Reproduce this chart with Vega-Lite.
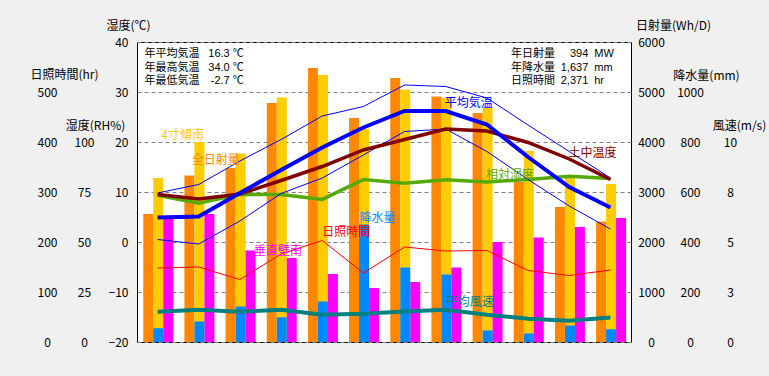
{
  "$schema": "https://vega.github.io/schema/vega-lite/v6.json",
  "width": 494,
  "height": 300,
  "autosize": {"type": "none"},
  "padding": {"left": 137, "top": 42, "right": 138, "bottom": 34},
  "background": "#f0f0f0",
  "view": {"fill": "white", "stroke": "black", "strokeWidth": 1},
  "config": {
    "font": "Noto Sans CJK JP",
    "axis": {
      "domain": false, "ticks": false, "tickSize": 0, "grid": false,
      "labelFont": "Noto Sans CJK JP", "labelFontSize": 12, "labelColor": "black",
      "titleFont": "Noto Sans CJK JP", "titleFontSize": 12, "titleFontWeight": "normal", "titleColor": "black",
      "titleAngle": 0, "titleAlign": "center", "titleBaseline": "middle",
      "gridColor": "#808080", "gridDash": [4, 3], "gridOpacity": 1, "gridWidth": 1,
      "labelBaseline": "middle", "labelOverlap": false
    },
    "text": {"font": "Noto Sans CJK JP", "fontSize": 12}
  },
  "datasets": {
    "solar": [
      {"month": "1月", "series": "全日射量", "value": 2560}, {"month": "2月", "series": "全日射量", "value": 3330},
      {"month": "3月", "series": "全日射量", "value": 3480}, {"month": "4月", "series": "全日射量", "value": 4780},
      {"month": "5月", "series": "全日射量", "value": 5480}, {"month": "6月", "series": "全日射量", "value": 4480},
      {"month": "7月", "series": "全日射量", "value": 5280}, {"month": "8月", "series": "全日射量", "value": 4910},
      {"month": "9月", "series": "全日射量", "value": 4580}, {"month": "10月", "series": "全日射量", "value": 3200},
      {"month": "11月", "series": "全日射量", "value": 2700}, {"month": "12月", "series": "全日射量", "value": 2410},
      {"month": "1月", "series": "4寸傾南", "value": 3280}, {"month": "2月", "series": "4寸傾南", "value": 4000},
      {"month": "3月", "series": "4寸傾南", "value": 3770}, {"month": "4月", "series": "4寸傾南", "value": 4890},
      {"month": "5月", "series": "4寸傾南", "value": 5340}, {"month": "6月", "series": "4寸傾南", "value": 4260},
      {"month": "7月", "series": "4寸傾南", "value": 5050}, {"month": "8月", "series": "4寸傾南", "value": 4880},
      {"month": "9月", "series": "4寸傾南", "value": 4690}, {"month": "10月", "series": "4寸傾南", "value": 3820},
      {"month": "11月", "series": "4寸傾南", "value": 3300}, {"month": "12月", "series": "4寸傾南", "value": 3160},
      {"month": "1月", "series": "垂直壁南", "value": 2470}, {"month": "2月", "series": "垂直壁南", "value": 2560},
      {"month": "3月", "series": "垂直壁南", "value": 1830}, {"month": "4月", "series": "垂直壁南", "value": 1680},
      {"month": "5月", "series": "垂直壁南", "value": 1360}, {"month": "6月", "series": "垂直壁南", "value": 1080},
      {"month": "7月", "series": "垂直壁南", "value": 1200}, {"month": "8月", "series": "垂直壁南", "value": 1490},
      {"month": "9月", "series": "垂直壁南", "value": 2000}, {"month": "10月", "series": "垂直壁南", "value": 2090},
      {"month": "11月", "series": "垂直壁南", "value": 2300}, {"month": "12月", "series": "垂直壁南", "value": 2480}
    ],
    "precip": [
      {"month": "1月", "mm": 55}, {"month": "2月", "mm": 82}, {"month": "3月", "mm": 142}, {"month": "4月", "mm": 99},
      {"month": "5月", "mm": 162}, {"month": "6月", "mm": 470}, {"month": "7月", "mm": 298}, {"month": "8月", "mm": 270},
      {"month": "9月", "mm": 46}, {"month": "10月", "mm": 34}, {"month": "11月", "mm": 66}, {"month": "12月", "mm": 51}
    ],
    "sun": [
      {"month": "1月", "hr": 148}, {"month": "2月", "hr": 150}, {"month": "3月", "hr": 125}, {"month": "4月", "hr": 176},
      {"month": "5月", "hr": 203}, {"month": "6月", "hr": 138}, {"month": "7月", "hr": 190}, {"month": "8月", "hr": 182},
      {"month": "9月", "hr": 183}, {"month": "10月", "hr": 143}, {"month": "11月", "hr": 133}, {"month": "12月", "hr": 144}
    ],
    "wind": [
      {"month": "1月", "ms": 1.51}, {"month": "2月", "ms": 1.61}, {"month": "3月", "ms": 1.51}, {"month": "4月", "ms": 1.61},
      {"month": "5月", "ms": 1.36}, {"month": "6月", "ms": 1.41}, {"month": "7月", "ms": 1.53}, {"month": "8月", "ms": 1.61},
      {"month": "9月", "ms": 1.36}, {"month": "10月", "ms": 1.16}, {"month": "11月", "ms": 1.06}, {"month": "12月", "ms": 1.23}
    ],
    "rh": [
      {"month": "1月", "rh": 73.3}, {"month": "2月", "rh": 69.4}, {"month": "3月", "rh": 73.8}, {"month": "4月", "rh": 73.8},
      {"month": "5月", "rh": 71.3}, {"month": "6月", "rh": 81.2}, {"month": "7月", "rh": 79.4}, {"month": "8月", "rh": 81.1},
      {"month": "9月", "rh": 80.0}, {"month": "10月", "rh": 81.3}, {"month": "11月", "rh": 82.9}, {"month": "12月", "rh": 81.7}
    ],
    "temp": [
      {"month": "1月", "series": "最高気温", "t": 9.8}, {"month": "2月", "series": "最高気温", "t": 11.5},
      {"month": "3月", "series": "最高気温", "t": 16.2}, {"month": "4月", "series": "最高気温", "t": 20.5},
      {"month": "5月", "series": "最高気温", "t": 25.2}, {"month": "6月", "series": "最高気温", "t": 27.1},
      {"month": "7月", "series": "最高気温", "t": 31.4}, {"month": "8月", "series": "最高気温", "t": 31.1},
      {"month": "9月", "series": "最高気温", "t": 28.8}, {"month": "10月", "series": "最高気温", "t": 23.4},
      {"month": "11月", "series": "最高気温", "t": 18.1}, {"month": "12月", "series": "最高気温", "t": 12.8},
      {"month": "1月", "series": "最低気温", "t": 0.5}, {"month": "2月", "series": "最低気温", "t": -0.4},
      {"month": "3月", "series": "最低気温", "t": 4.2}, {"month": "4月", "series": "最低気温", "t": 9.7},
      {"month": "5月", "series": "最低気温", "t": 12.8}, {"month": "6月", "series": "最低気温", "t": 17.4},
      {"month": "7月", "series": "最低気温", "t": 22.1}, {"month": "8月", "series": "最低気温", "t": 22.6},
      {"month": "9月", "series": "最低気温", "t": 18.1}, {"month": "10月", "series": "最低気温", "t": 12.5},
      {"month": "11月", "series": "最低気温", "t": 7.2}, {"month": "12月", "series": "最低気温", "t": 2.6},
      {"month": "1月", "series": "土中温度", "t": 9.5}, {"month": "2月", "series": "土中温度", "t": 8.6},
      {"month": "3月", "series": "土中温度", "t": 9.6}, {"month": "4月", "series": "土中温度", "t": 12.3},
      {"month": "5月", "series": "土中温度", "t": 15.1}, {"month": "6月", "series": "土中温度", "t": 18.4},
      {"month": "7月", "series": "土中温度", "t": 20.5}, {"month": "8月", "series": "土中温度", "t": 22.6},
      {"month": "9月", "series": "土中温度", "t": 22.2}, {"month": "10月", "series": "土中温度", "t": 19.9},
      {"month": "11月", "series": "土中温度", "t": 16.6}, {"month": "12月", "series": "土中温度", "t": 12.5},
      {"month": "1月", "series": "平均気温", "t": 4.9}, {"month": "2月", "series": "平均気温", "t": 5.1},
      {"month": "3月", "series": "平均気温", "t": 9.8}, {"month": "4月", "series": "平均気温", "t": 14.4},
      {"month": "5月", "series": "平均気温", "t": 18.9}, {"month": "6月", "series": "平均気温", "t": 22.9},
      {"month": "7月", "series": "平均気温", "t": 26.2}, {"month": "8月", "series": "平均気温", "t": 26.2},
      {"month": "9月", "series": "平均気温", "t": 23.5}, {"month": "10月", "series": "平均気温", "t": 17.0},
      {"month": "11月", "series": "平均気温", "t": 11.0}, {"month": "12月", "series": "平均気温", "t": 6.9}
    ]
  },
  "data": {"values": [{}]},
  "resolve": {"scale": {"y": "independent"}, "axis": {"y": "independent"}},
  "layer": [
    {
      "data": {"name": "solar"},
      "mark": {"type": "bar"},
      "encoding": {
        "x": {"field": "month", "type": "ordinal",
              "scale": {"domain": ["1月","2月","3月","4月","5月","6月","7月","8月","9月","10月","11月","12月"], "paddingInner": 0, "paddingOuter": 0},
              "axis": {"title": null, "labelAngle": 0, "grid": true, "tickBand": "extent", "labelPadding": 5, "labelBaseline": "top"}},
        "xOffset": {"field": "series", "type": "nominal",
                    "scale": {"domain": ["全日射量", "4寸傾南", "垂直壁南"], "paddingInner": 0, "paddingOuter": 0.56, "align": 0.56}},
        "y": {"field": "value", "type": "quantitative",
              "scale": {"domain": [0, 6000], "nice": false},
              "axis": {"orient": "right", "title": "日射量(Wh/D)", "values": [0,1000,2000,3000,4000,5000,6000], "format": "d",
                       "labelAlign": "center", "labelPadding": 20, "titleX": 42, "titleY": -17}},
        "color": {"field": "series", "type": "nominal",
                  "scale": {"domain": ["全日射量", "4寸傾南", "垂直壁南"], "range": ["#ff8800", "#ffcc00", "#ff00ff"]},
                  "legend": null}
      }
    },
    {
      "data": {"name": "precip"},
      "mark": {"type": "bar", "color": "#0088ff"},
      "encoding": {
        "x": {"field": "month", "type": "ordinal", "axis": null},
        "xOffset": {"datum": "4寸傾南", "type": "nominal"},
        "y": {"field": "mm", "type": "quantitative",
              "scale": {"domain": [0, 1200], "nice": false},
              "axis": {"orient": "right", "title": "降水量(mm)", "values": [0,200,400,600,800,1000], "format": "d",
                       "labelAlign": "center", "labelPadding": 59, "titleX": 75, "titleY": 33}}
      }
    },
    {
      "data": {"name": "sun"},
      "mark": {"type": "line", "color": "#ff0000", "strokeWidth": 1},
      "encoding": {
        "x": {"field": "month", "type": "ordinal", "axis": null},
        "y": {"field": "hr", "type": "quantitative",
              "scale": {"domain": [0, 600], "nice": false},
              "axis": {"orient": "left", "title": "日照時間(hr)", "values": [0,100,200,300,400,500],
                       "labelAlign": "center", "labelPadding": 90, "titleX": -73, "titleY": 32}}
      }
    },
    {
      "data": {"name": "wind"},
      "mark": {"type": "line", "color": "#008080", "strokeWidth": 4},
      "encoding": {
        "x": {"field": "month", "type": "ordinal", "axis": null},
        "y": {"field": "ms", "type": "quantitative",
              "scale": {"domain": [0, 15], "nice": false},
              "axis": {"orient": "right", "title": "風速(m/s)", "values": [0,2.5,5,7.5,10], "format": ".0f",
                       "labelAlign": "center", "labelPadding": 99, "titleX": 108, "titleY": 83}}
      }
    },
    {
      "data": {"name": "rh"},
      "mark": {"type": "line", "color": "#55aa00", "strokeWidth": 3.5},
      "encoding": {
        "x": {"field": "month", "type": "ordinal", "axis": null},
        "y": {"field": "rh", "type": "quantitative",
              "scale": {"domain": [0, 150], "nice": false},
              "axis": {"orient": "left", "title": "湿度(RH%)", "values": [0,25,50,75,100],
                       "labelAlign": "center", "labelPadding": 53, "titleX": -42, "titleY": 83}}
      }
    },
    {
      "data": {"name": "temp"},
      "transform": [{"filter": "datum.series === '最高気温'"}],
      "mark": {"type": "line", "color": "#0000ff", "strokeWidth": 1},
      "encoding": {
        "x": {"field": "month", "type": "ordinal", "axis": null},
        "y": {"field": "t", "type": "quantitative",
              "scale": {"domain": [-20, 40], "nice": false},
              "axis": {"orient": "left", "title": "湿度(℃)", "values": [-20,-10,0,10,20,30,40], "grid": true,
                       "labelAlign": "right", "labelPadding": 9, "titleX": -9, "titleY": -17}}
      }
    },
    {
      "data": {"name": "temp"},
      "transform": [{"filter": "datum.series === '最低気温'"}],
      "mark": {"type": "line", "color": "#0000ff", "strokeWidth": 1},
      "encoding": {
        "x": {"field": "month", "type": "ordinal", "axis": null},
        "y": {"field": "t", "type": "quantitative", "scale": {"domain": [-20, 40], "nice": false}, "axis": null}
      }
    },
    {
      "data": {"name": "temp"},
      "transform": [{"filter": "datum.series === '土中温度'"}],
      "mark": {"type": "line", "color": "#800000", "strokeWidth": 3.5},
      "encoding": {
        "x": {"field": "month", "type": "ordinal", "axis": null},
        "y": {"field": "t", "type": "quantitative", "scale": {"domain": [-20, 40], "nice": false}, "axis": null}
      }
    },
    {
      "data": {"name": "temp"},
      "transform": [{"filter": "datum.series === '平均気温'"}],
      "mark": {"type": "line", "color": "#0000ff", "strokeWidth": 4},
      "encoding": {
        "x": {"field": "month", "type": "ordinal", "axis": null},
        "y": {"field": "t", "type": "quantitative", "scale": {"domain": [-20, 40], "nice": false}, "axis": null}
      }
    },
    {
      "mark": {"type": "text", "text": "4寸傾南", "color": "#ffcc00", "dx": 25, "align": "center", "baseline": "middle"},
      "encoding": {"x": {"datum": "1月", "type": "ordinal", "axis": null},
                   "y": {"datum": 21.4, "type": "quantitative", "scale": {"domain": [-20, 40], "nice": false}, "axis": null}}
    },
    {
      "mark": {"type": "text", "text": "全日射量", "color": "#ff8800", "dx": 17, "align": "center", "baseline": "middle"},
      "encoding": {"x": {"datum": "2月", "type": "ordinal", "axis": null},
                   "y": {"datum": 16.4, "type": "quantitative", "scale": {"domain": [-20, 40], "nice": false}, "axis": null}}
    },
    {
      "mark": {"type": "text", "text": "垂直壁南", "color": "#ff00ff", "dx": -3, "align": "center", "baseline": "middle"},
      "encoding": {"x": {"datum": "4月", "type": "ordinal", "axis": null},
                   "y": {"datum": -1.8, "type": "quantitative", "scale": {"domain": [-20, 40], "nice": false}, "axis": null}}
    },
    {
      "mark": {"type": "text", "text": "日照時間", "color": "#ff0000", "dx": 24, "align": "center", "baseline": "middle"},
      "encoding": {"x": {"datum": "5月", "type": "ordinal", "axis": null},
                   "y": {"datum": 2.1, "type": "quantitative", "scale": {"domain": [-20, 40], "nice": false}, "axis": null}}
    },
    {
      "mark": {"type": "text", "text": "降水量", "color": "#0088ff", "dx": 14, "align": "center", "baseline": "middle"},
      "encoding": {"x": {"datum": "6月", "type": "ordinal", "axis": null},
                   "y": {"datum": 4.9, "type": "quantitative", "scale": {"domain": [-20, 40], "nice": false}, "axis": null}}
    },
    {
      "mark": {"type": "text", "text": "平均気温", "color": "#0000ff", "dx": 23, "align": "center", "baseline": "middle"},
      "encoding": {"x": {"datum": "8月", "type": "ordinal", "axis": null},
                   "y": {"datum": 27.9, "type": "quantitative", "scale": {"domain": [-20, 40], "nice": false}, "axis": null}}
    },
    {
      "mark": {"type": "text", "text": "土中温度", "color": "#800000", "dx": -18, "align": "center", "baseline": "middle"},
      "encoding": {"x": {"datum": "12月", "type": "ordinal", "axis": null},
                   "y": {"datum": 17.8, "type": "quantitative", "scale": {"domain": [-20, 40], "nice": false}, "axis": null}}
    },
    {
      "mark": {"type": "text", "text": "相対湿度", "color": "#55aa00", "dx": 23, "align": "center", "baseline": "middle"},
      "encoding": {"x": {"datum": "9月", "type": "ordinal", "axis": null},
                   "y": {"datum": 13.4, "type": "quantitative", "scale": {"domain": [-20, 40], "nice": false}, "axis": null}}
    },
    {
      "mark": {"type": "text", "text": "平均風速", "color": "#008080", "dx": 24, "align": "center", "baseline": "middle"},
      "encoding": {"x": {"datum": "8月", "type": "ordinal", "axis": null},
                   "y": {"datum": -12, "type": "quantitative", "scale": {"domain": [-20, 40], "nice": false}, "axis": null}}
    },
    {"mark": {"type": "text", "text": "年平均気温", "font": "Liberation Sans, Noto Sans CJK JP", "fontSize": 11, "color": "black", "dx": -13, "align": "left", "baseline": "middle"},
     "encoding": {"x": {"datum": "1月", "type": "ordinal", "axis": null},
                  "y": {"datum": 37.6, "type": "quantitative", "scale": {"domain": [-20, 40], "nice": false}, "axis": null}}},
    {"mark": {"type": "text", "text": "年最高気温", "font": "Liberation Sans, Noto Sans CJK JP", "fontSize": 11, "color": "black", "dx": -13, "align": "left", "baseline": "middle"},
     "encoding": {"x": {"datum": "1月", "type": "ordinal", "axis": null},
                  "y": {"datum": 34.9, "type": "quantitative", "scale": {"domain": [-20, 40], "nice": false}, "axis": null}}},
    {"mark": {"type": "text", "text": "年最低気温", "font": "Liberation Sans, Noto Sans CJK JP", "fontSize": 11, "color": "black", "dx": -13, "align": "left", "baseline": "middle"},
     "encoding": {"x": {"datum": "1月", "type": "ordinal", "axis": null},
                  "y": {"datum": 32.2, "type": "quantitative", "scale": {"domain": [-20, 40], "nice": false}, "axis": null}}},
    {"mark": {"type": "text", "text": "16.3", "font": "Liberation Sans, Noto Sans CJK JP", "fontSize": 11, "color": "black", "dx": 31, "align": "right", "baseline": "middle"},
     "encoding": {"x": {"datum": "2月", "type": "ordinal", "axis": null},
                  "y": {"datum": 37.6, "type": "quantitative", "scale": {"domain": [-20, 40], "nice": false}, "axis": null}}},
    {"mark": {"type": "text", "text": "34.0", "font": "Liberation Sans, Noto Sans CJK JP", "fontSize": 11, "color": "black", "dx": 31, "align": "right", "baseline": "middle"},
     "encoding": {"x": {"datum": "2月", "type": "ordinal", "axis": null},
                  "y": {"datum": 34.9, "type": "quantitative", "scale": {"domain": [-20, 40], "nice": false}, "axis": null}}},
    {"mark": {"type": "text", "text": "-2.7", "font": "Liberation Sans, Noto Sans CJK JP", "fontSize": 11, "color": "black", "dx": 31, "align": "right", "baseline": "middle"},
     "encoding": {"x": {"datum": "2月", "type": "ordinal", "axis": null},
                  "y": {"datum": 32.2, "type": "quantitative", "scale": {"domain": [-20, 40], "nice": false}, "axis": null}}},
    {"mark": {"type": "text", "text": "℃", "font": "Liberation Sans, Noto Sans CJK JP", "fontSize": 11, "color": "black", "dx": 34, "align": "left", "baseline": "middle"},
     "encoding": {"x": {"datum": "2月", "type": "ordinal", "axis": null},
                  "y": {"datum": 37.6, "type": "quantitative", "scale": {"domain": [-20, 40], "nice": false}, "axis": null}}},
    {"mark": {"type": "text", "text": "℃", "font": "Liberation Sans, Noto Sans CJK JP", "fontSize": 11, "color": "black", "dx": 34, "align": "left", "baseline": "middle"},
     "encoding": {"x": {"datum": "2月", "type": "ordinal", "axis": null},
                  "y": {"datum": 34.9, "type": "quantitative", "scale": {"domain": [-20, 40], "nice": false}, "axis": null}}},
    {"mark": {"type": "text", "text": "℃", "font": "Liberation Sans, Noto Sans CJK JP", "fontSize": 11, "color": "black", "dx": 34, "align": "left", "baseline": "middle"},
     "encoding": {"x": {"datum": "2月", "type": "ordinal", "axis": null},
                  "y": {"datum": 32.2, "type": "quantitative", "scale": {"domain": [-20, 40], "nice": false}, "axis": null}}},
    {"mark": {"type": "text", "text": "年日射量", "font": "Liberation Sans, Noto Sans CJK JP", "fontSize": 11, "color": "black", "dx": -17, "align": "left", "baseline": "middle"},
     "encoding": {"x": {"datum": "10月", "type": "ordinal", "axis": null},
                  "y": {"datum": 37.6, "type": "quantitative", "scale": {"domain": [-20, 40], "nice": false}, "axis": null}}},
    {"mark": {"type": "text", "text": "年降水量", "font": "Liberation Sans, Noto Sans CJK JP", "fontSize": 11, "color": "black", "dx": -17, "align": "left", "baseline": "middle"},
     "encoding": {"x": {"datum": "10月", "type": "ordinal", "axis": null},
                  "y": {"datum": 34.9, "type": "quantitative", "scale": {"domain": [-20, 40], "nice": false}, "axis": null}}},
    {"mark": {"type": "text", "text": "日照時間", "font": "Liberation Sans, Noto Sans CJK JP", "fontSize": 11, "color": "black", "dx": -17, "align": "left", "baseline": "middle"},
     "encoding": {"x": {"datum": "10月", "type": "ordinal", "axis": null},
                  "y": {"datum": 32.2, "type": "quantitative", "scale": {"domain": [-20, 40], "nice": false}, "axis": null}}},
    {"mark": {"type": "text", "text": "394", "font": "Liberation Sans, Noto Sans CJK JP", "fontSize": 11, "color": "black", "dx": 19, "align": "right", "baseline": "middle"},
     "encoding": {"x": {"datum": "11月", "type": "ordinal", "axis": null},
                  "y": {"datum": 37.6, "type": "quantitative", "scale": {"domain": [-20, 40], "nice": false}, "axis": null}}},
    {"mark": {"type": "text", "text": "1,637", "font": "Liberation Sans, Noto Sans CJK JP", "fontSize": 11, "color": "black", "dx": 19, "align": "right", "baseline": "middle"},
     "encoding": {"x": {"datum": "11月", "type": "ordinal", "axis": null},
                  "y": {"datum": 34.9, "type": "quantitative", "scale": {"domain": [-20, 40], "nice": false}, "axis": null}}},
    {"mark": {"type": "text", "text": "2,371", "font": "Liberation Sans, Noto Sans CJK JP", "fontSize": 11, "color": "black", "dx": 19, "align": "right", "baseline": "middle"},
     "encoding": {"x": {"datum": "11月", "type": "ordinal", "axis": null},
                  "y": {"datum": 32.2, "type": "quantitative", "scale": {"domain": [-20, 40], "nice": false}, "axis": null}}},
    {"mark": {"type": "text", "text": "MW", "font": "Liberation Sans, Noto Sans CJK JP", "fontSize": 11, "color": "black", "dx": 25, "align": "left", "baseline": "middle"},
     "encoding": {"x": {"datum": "11月", "type": "ordinal", "axis": null},
                  "y": {"datum": 37.6, "type": "quantitative", "scale": {"domain": [-20, 40], "nice": false}, "axis": null}}},
    {"mark": {"type": "text", "text": "mm", "font": "Liberation Sans, Noto Sans CJK JP", "fontSize": 11, "color": "black", "dx": 25, "align": "left", "baseline": "middle"},
     "encoding": {"x": {"datum": "11月", "type": "ordinal", "axis": null},
                  "y": {"datum": 34.9, "type": "quantitative", "scale": {"domain": [-20, 40], "nice": false}, "axis": null}}},
    {"mark": {"type": "text", "text": "hr", "font": "Liberation Sans, Noto Sans CJK JP", "fontSize": 11, "color": "black", "dx": 25, "align": "left", "baseline": "middle"},
     "encoding": {"x": {"datum": "11月", "type": "ordinal", "axis": null},
                  "y": {"datum": 32.2, "type": "quantitative", "scale": {"domain": [-20, 40], "nice": false}, "axis": null}}}
  ]
}
